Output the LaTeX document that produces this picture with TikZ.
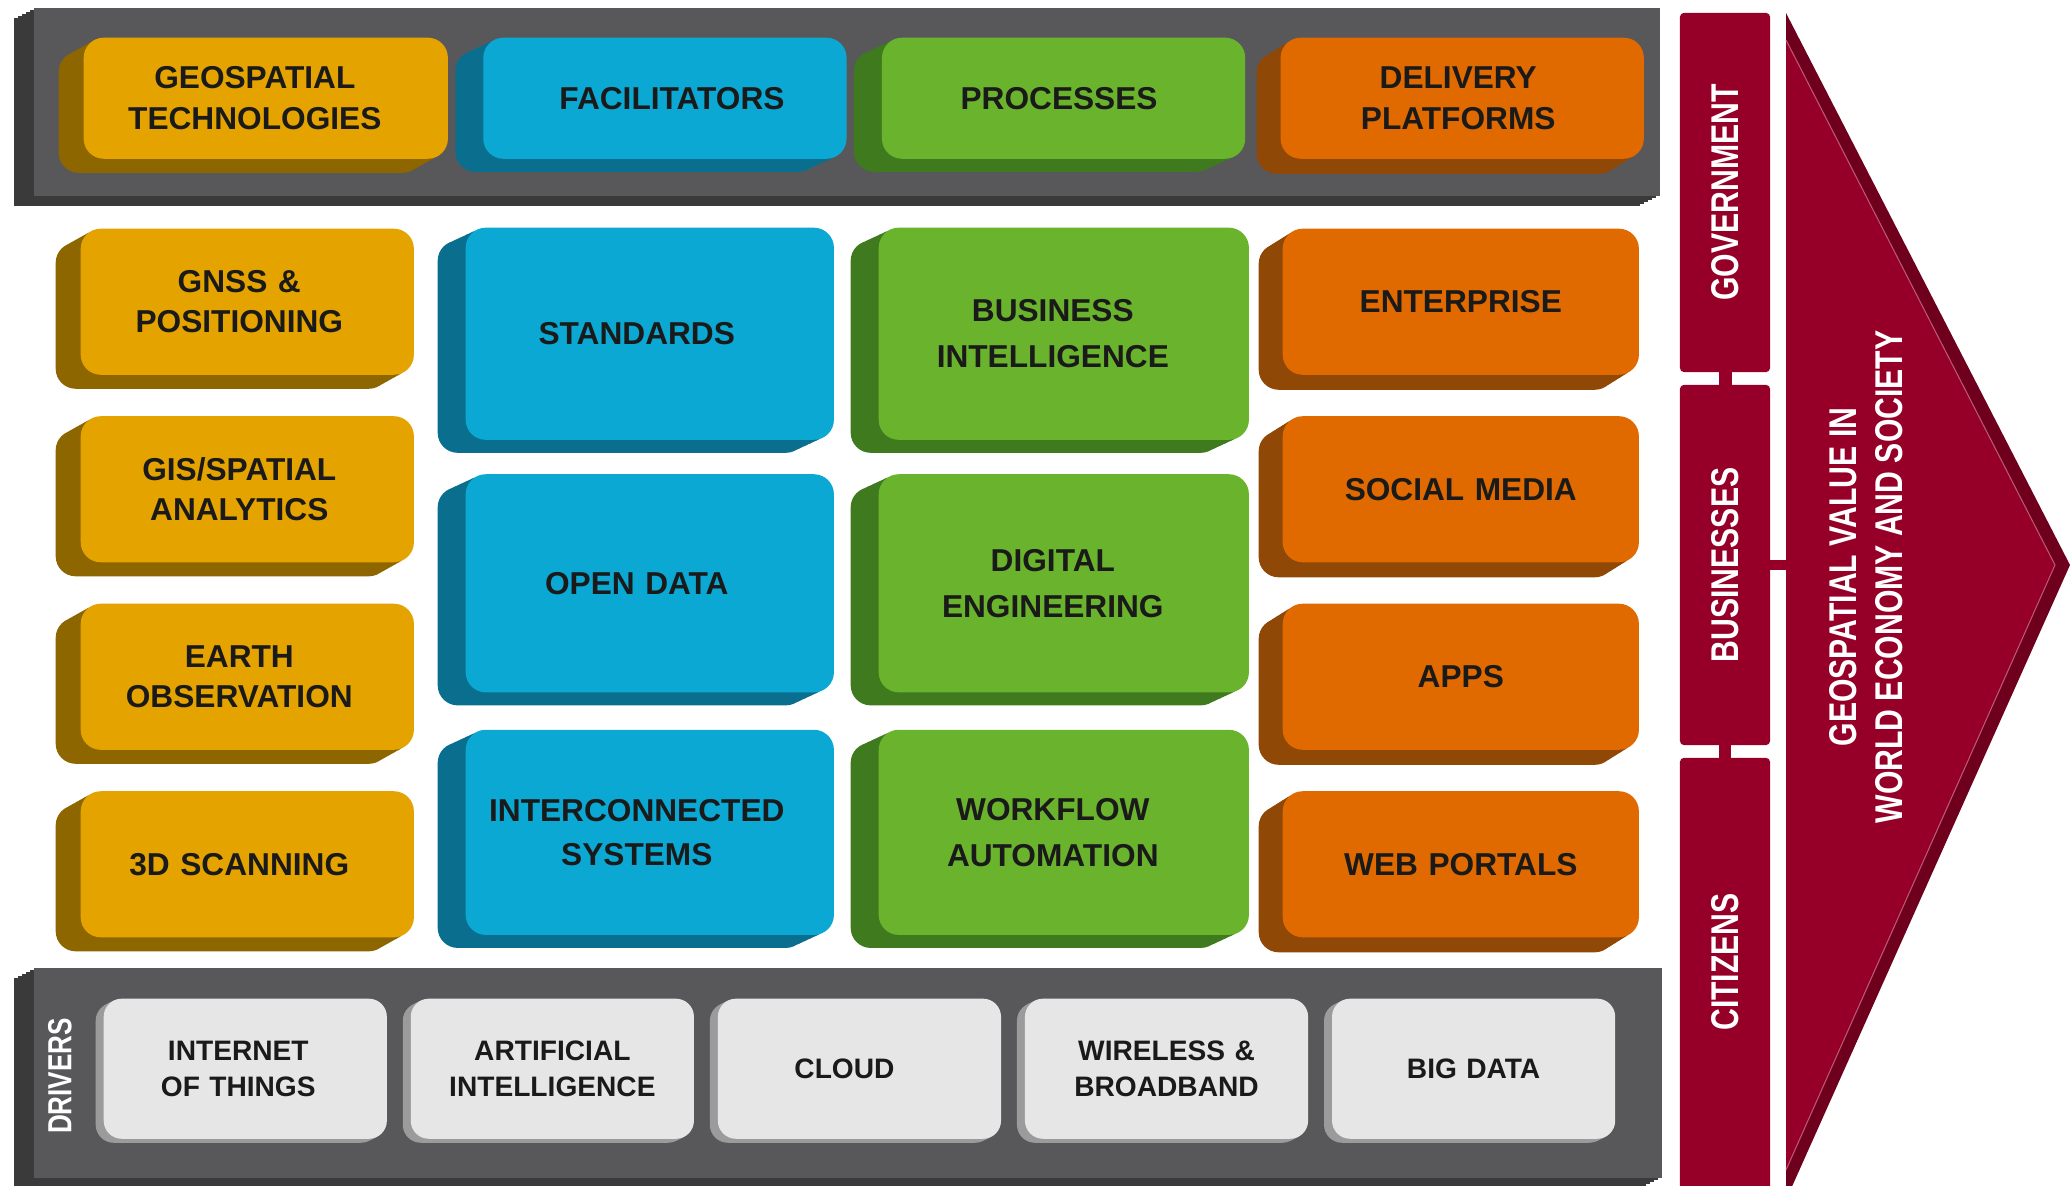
\documentclass[tikz,border=0pt]{standalone}
\usepackage{fontspec}
\setmainfont{Liberation Sans}
\newfontfamily\condfont[FakeStretch=0.78]{Liberation Sans}
\usetikzlibrary{positioning,shadows}

\definecolor{ink}{HTML}{1A1A1A}
\definecolor{geoface}{HTML}{E5A300}
\definecolor{geodeep}{HTML}{8E6600}
\definecolor{facface}{HTML}{0AA8D2}
\definecolor{facdeep}{HTML}{0A6F8E}
\definecolor{proface}{HTML}{6AB42D}
\definecolor{prodeep}{HTML}{3F7A1E}
\definecolor{delface}{HTML}{E06A00}
\definecolor{deldeep}{HTML}{904806}
\definecolor{barface}{HTML}{58585A}
\definecolor{bardeep}{HTML}{3A3A3B}
\definecolor{drvface}{HTML}{E6E6E6}
\definecolor{drvdeep}{HTML}{9B9B9B}
\definecolor{valface}{HTML}{960028}
\definecolor{valdeep}{HTML}{6F001D}

\tikzset{
  sweep/.style n args={3}{
    general shadow={fill=#1, shadow xshift=-#2cm, shadow yshift=-#3cm},
    general shadow={fill=#1, shadow xshift=-0.8*#2cm, shadow yshift=-0.8*#3cm},
    general shadow={fill=#1, shadow xshift=-0.6*#2cm, shadow yshift=-0.6*#3cm},
    general shadow={fill=#1, shadow xshift=-0.4*#2cm, shadow yshift=-0.4*#3cm},
    general shadow={fill=#1, shadow xshift=-0.2*#2cm, shadow yshift=-0.2*#3cm}},
  textleft/.style={execute at begin node={\leftskip=0pt plus 1fill\rightskip=#1 plus 1fill\parfillskip=0pt}},
  facew/.style={minimum width=#1, text width=#1},
  block/.style={rounded corners=0.2cm, inner sep=0pt, align=center, text=ink,
    font=\fontsize{9}{11.5}\selectfont\bfseries},
  geobox/.style={block, fill=geoface, sweep={geodeep}{0.25}{0.14}, facew=3.33cm, minimum height=1.46cm, textleft=0.16cm},
  facbox/.style={block, fill=facface, sweep={facdeep}{0.28}{0.13}, facew=3.68cm, minimum height=2.12cm, textleft=0.26cm,
    font=\fontsize{9}{12.5}\selectfont\bfseries},
  probox/.style={block, fill=proface, sweep={prodeep}{0.28}{0.13}, facew=3.70cm, minimum height=2.12cm, textleft=0.22cm,
    font=\fontsize{9}{13}\selectfont\bfseries},
  delbox/.style={block, fill=delface, sweep={deldeep}{0.24}{0.15}, facew=3.56cm, minimum height=1.46cm, textleft=0pt},
  barbox/.style={fill=barface, sweep={bardeep}{0.20}{0.10}, inner sep=0pt, anchor=north west},
  drvbox/.style={block, rounded corners=0.18cm, fill=drvface, sweep={drvdeep}{0.08}{0.04},
    facew=2.83cm, minimum height=1.40cm, textleft=0pt, font=\fontsize{8}{10.2}\selectfont\bfseries},
  sidebox/.style={rotate=90, inner sep=0pt, fill=valface, rounded corners=0.04cm, minimum height=0.90cm,
    text=white, font=\condfont\bfseries\fontsize{11}{13}\selectfont},
}

\begin{document}
\begin{tikzpicture}[x=0.01cm, y=-0.01cm]
    \useasboundingbox[fill=white] (0,0) rectangle (2071,1186);

    \node[barbox, minimum width=16.25cm, minimum height=1.88cm] (topbar) at (33,7) {};
    \node[geobox, facew=3.64cm, minimum height=1.21cm, textleft=0.22cm, anchor=north west] (geotech) at (83,37) {GEOSPATIAL\\TECHNOLOGIES};
    \node[facbox, facew=3.63cm, minimum height=1.21cm, textleft=-0.14cm, right=0.34cm of geotech] (facil) {FACILITATORS};
    \node[probox, facew=3.63cm, minimum height=1.21cm, textleft=0.09cm, right=0.34cm of facil] (proc) {PROCESSES};
    \node[delbox, facew=3.63cm, minimum height=1.21cm, textleft=0.08cm, right=0.34cm of proc] (deliv) {DELIVERY\\PLATFORMS};

    \node[geobox, anchor=north west] (gnss) at (80,228) {GNSS \&\\POSITIONING};
    \node[geobox, below=0.40cm of gnss] (gis) {GIS/SPATIAL\\ANALYTICS};
    \node[geobox, below=0.40cm of gis] (earthobs) {EARTH\\OBSERVATION};
    \node[geobox, below=0.40cm of earthobs] (scan3d) {3D SCANNING};

    \node[facbox, anchor=north west] (standards) at (465,227) {STANDARDS};
    \node[facbox, below=0.33cm of standards, minimum height=2.18cm] (opendata) {OPEN DATA};
    \node[facbox, below=0.36cm of opendata, minimum height=2.05cm] (intercon) {INTERCONNECTED\\SYSTEMS};

    \node[probox, anchor=north west] (bizintel) at (878,227) {BUSINESS\\INTELLIGENCE};
    \node[probox, below=0.33cm of bizintel, minimum height=2.18cm] (digeng) {DIGITAL\\ENGINEERING};
    \node[probox, below=0.36cm of digeng, minimum height=2.05cm] (workflow) {WORKFLOW\\AUTOMATION};

    \node[delbox, anchor=north west] (enterprise) at (1282,228) {ENTERPRISE};
    \node[delbox, below=0.40cm of enterprise] (social) {SOCIAL MEDIA};
    \node[delbox, below=0.40cm of social] (apps) {APPS};
    \node[delbox, below=0.40cm of apps] (webportals) {WEB PORTALS};

    \node[barbox, minimum width=16.27cm, minimum height=2.10cm] (drivebar) at (33,967) {};
    \node[rotate=90, text=white, font=\condfont\bfseries\fontsize{9.5}{11}\selectfont] (drivers) at (60,1076) {DRIVERS};
    \node[drvbox, textleft=0.14cm, anchor=north west] (iot) at (103,998) {INTERNET\\OF THINGS};
    \node[drvbox, right=0.225cm of iot] (ai) {ARTIFICIAL\\INTELLIGENCE};
    \node[drvbox, textleft=0.30cm, right=0.225cm of ai] (cloud) {CLOUD};
    \node[drvbox, right=0.225cm of cloud] (wireless) {WIRELESS \&\\BROADBAND};
    \node[drvbox, right=0.225cm of wireless] (bigdata) {BIG DATA};

    \node[sidebox, minimum width=3.59cm] (gov) at (1725,192.5) {GOVERNMENT};
    \node[sidebox, minimum width=3.60cm] (biz) at (1725,565) {BUSINESSES};
    \node[sidebox, minimum width=4.40cm, execute at begin node={\hspace*{0.32cm}}] (citizens) at (1725,978) {CITIZENS};
    \fill[valface] ([xshift=-0.065cm, yshift=0.02cm]gov.west) rectangle ([xshift=0.065cm, yshift=-0.02cm]biz.east);
    \fill[valface] ([xshift=-0.06cm, yshift=0.02cm]biz.west) rectangle ([xshift=0.06cm, yshift=-0.02cm]citizens.east);
    \fill[valface] ([xshift=-0.02cm, yshift=0.05cm]biz.south) rectangle ([xshift=0.19cm, yshift=-0.05cm]biz.south);

    \coordinate (tiptop) at (1786,13);
    \coordinate (tip) at (2070,565);
    \coordinate (tipbot) at (1786,1200);
    \fill[valdeep] (tiptop) -- (tip) -- (tipbot) -- cycle;
    \fill[valface] (1786,40) -- (2055,565) -- (1786,1170) -- cycle;
    \draw[valface!65!white, line width=0.3pt] (1786,40) -- (2055,565) -- (1786,1170);
    \node[rotate=90, align=center, text=white, font=\condfont\bfseries\fontsize{11}{13}\selectfont] (value) at (1866,577) {GEOSPATIAL VALUE IN\\WORLD ECONOMY AND SOCIETY};
\end{tikzpicture}
\end{document}
